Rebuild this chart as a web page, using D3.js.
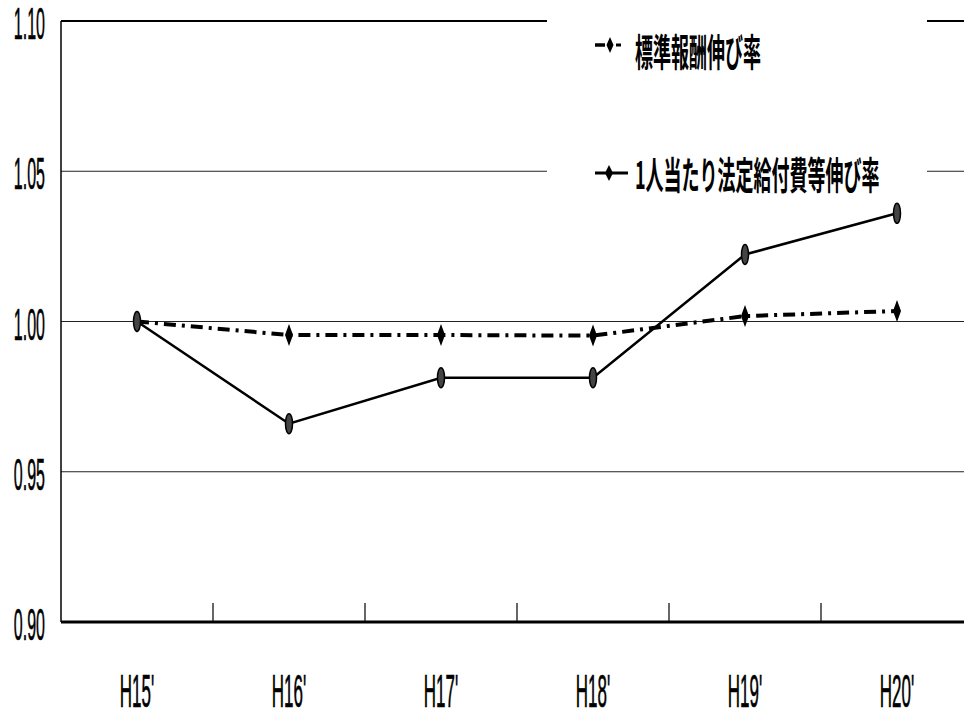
<!DOCTYPE html>
<html>
<head>
<meta charset="utf-8">
<script src="https://cdn.jsdelivr.net/npm/d3@7"></script>
<style>
  body { margin: 0; background: white; }
  svg { display: block; }
</style>
</head>
<body>
<div id="wykres"></div>
<script>
// data
var kategorie = ["H15'", "H16'", "H17'", "H18'", "H19'", "H20'"];
var hyoujun = [1.000, 0.9955, 0.9955, 0.9953, 1.0018, 1.0035];
var kyufu = [1.000, 0.966, 0.9813, 0.9813, 1.0223, 1.0360];
var yTicks = [0.90, 0.95, 1.00, 1.05, 1.10];
var nazwy = ["標準報酬伸び率", "1人当たり法定給付費等伸び率"];

var width = 964, height = 718;
var left = 61, top_ = 21, bottom = 622;

var svg = d3.select("#wykres")
  .append("svg")
  .attr("width", width)
  .attr("height", height)
  .style("background", "white");

var xscale = d3.scaleBand()
  .domain(kategorie)
  .range([left, left + 6 * 152]);

var yscale = d3.scaleLinear()
  .domain([0.90, 1.10])
  .range([bottom, top_]);

var cx = function (i) { return xscale(kategorie[i]) + xscale.bandwidth() / 2; };

// gridlines
svg.append("g")
  .selectAll("line")
  .data(yTicks.filter(d => d > 0.9 && d < 1.1))
  .enter().append("line")
  .attr("x1", left)
  .attr("x2", width)
  .attr("y1", d => yscale(d))
  .attr("y2", d => yscale(d))
  .attr("stroke", "#222")
  .attr("stroke-width", 1);

// top border
svg.append("line")
  .attr("x1", left).attr("x2", width)
  .attr("y1", yscale(1.10)).attr("y2", yscale(1.10))
  .attr("stroke", "black").attr("stroke-width", 2);

// y axis line + labels
svg.append("line")
  .attr("x1", left).attr("x2", left)
  .attr("y1", yscale(1.10)).attr("y2", yscale(0.90))
  .attr("stroke", "black").attr("stroke-width", 1.5);

svg.append("g")
  .selectAll("text")
  .data(yTicks)
  .enter().append("text")
  .attr("transform", d => "translate(45," + (yscale(d) + 18) + ") scale(0.8,2.2)")
  .attr("text-anchor", "end")
  .style("font-family", "'Liberation Sans Narrow', 'Liberation Sans', sans-serif")
  .style("font-size", "20px")
  .style("stroke", "black")
  .style("stroke-width", 0.3)
  .text(d => d3.format(".2f")(d));

// x axis
var xAxis = svg.append("g")
  .attr("transform", "translate(0," + bottom + ")");

xAxis.append("line")
  .attr("x1", left).attr("x2", width)
  .attr("y1", 0).attr("y2", 0)
  .attr("stroke", "black").attr("stroke-width", 3);

xAxis.selectAll(".tick")
  .data(kategorie.slice(1))
  .enter().append("line")
  .attr("class", "tick")
  .attr("x1", d => xscale(d)).attr("x2", d => xscale(d))
  .attr("y1", 0).attr("y2", -19)
  .attr("stroke", "black").attr("stroke-width", 1.2);

xAxis.selectAll("text")
  .data(kategorie)
  .enter().append("text")
  .attr("transform", d => "translate(" + (xscale(d) + xscale.bandwidth() / 2) + ",85) scale(0.85,2.3)")
  .attr("text-anchor", "middle")
  .style("font-family", "'Liberation Sans Narrow', 'Liberation Sans', sans-serif")
  .style("font-size", "20px")
  .style("stroke", "black")
  .style("stroke-width", 0.3)
  .text(d => d);

// lines
var linia = d3.line()
  .x((d, i) => cx(i))
  .y(d => yscale(d));

svg.append("path")
  .datum(hyoujun)
  .attr("d", linia)
  .attr("fill", "none")
  .attr("stroke", "black")
  .attr("stroke-width", 4)
  .attr("stroke-dasharray", "12,6,3,6");

svg.append("path")
  .datum(kyufu)
  .attr("d", linia)
  .attr("fill", "none")
  .attr("stroke", "black")
  .attr("stroke-width", 2.5);

// markers
var diament = "M0,-11L4,0L0,11L-4,0Z";

svg.append("g")
  .selectAll("path")
  .data(hyoujun)
  .enter().append("path")
  .attr("d", diament)
  .attr("transform", (d, i) => "translate(" + cx(i) + "," + yscale(d) + ")")
  .attr("fill", "black");

svg.append("g")
  .selectAll("ellipse")
  .data(kyufu)
  .enter().append("ellipse")
  .attr("cx", (d, i) => cx(i))
  .attr("cy", d => yscale(d))
  .attr("rx", 3.5)
  .attr("ry", 10)
  .attr("fill", "#444")
  .attr("stroke", "black")
  .attr("stroke-width", 1.5);

// legend
svg.append("rect")
  .attr("x", 547).attr("y", 14)
  .attr("width", 380).attr("height", 180)
  .attr("fill", "white");

// -◆- sample
svg.append("line")
  .attr("x1", 595).attr("x2", 605)
  .attr("y1", 45).attr("y2", 45)
  .attr("stroke", "black").attr("stroke-width", 3.5);
svg.append("line")
  .attr("x1", 616).attr("x2", 621)
  .attr("y1", 45).attr("y2", 45)
  .attr("stroke", "black").attr("stroke-width", 3);
svg.append("path")
  .attr("d", "M0,-8L3.5,0L0,8L-3.5,0Z")
  .attr("transform", "translate(610,45)")
  .attr("fill", "black");

// ◆— sample
svg.append("line")
  .attr("x1", 595).attr("x2", 628)
  .attr("y1", 173).attr("y2", 173)
  .attr("stroke", "black").attr("stroke-width", 3);
svg.append("path")
  .attr("d", "M0,-8L4,0L0,8L-4,0Z")
  .attr("transform", "translate(609,173)")
  .attr("fill", "black");

svg.append("text")
  .attr("transform", "translate(635,66) scale(1,2.1)")
  .style("font-family", "'Noto Sans CJK JP', sans-serif")
  .style("font-weight", "bold")
  .style("font-size", "18px")
  .text(nazwy[0]);

svg.append("text")
  .attr("transform", "translate(635,189) scale(1,2.1)")
  .style("font-family", "'Noto Sans CJK JP', sans-serif")
  .style("font-weight", "bold")
  .style("font-size", "18px")
  .text(nazwy[1]);
</script>
</body>
</html>
